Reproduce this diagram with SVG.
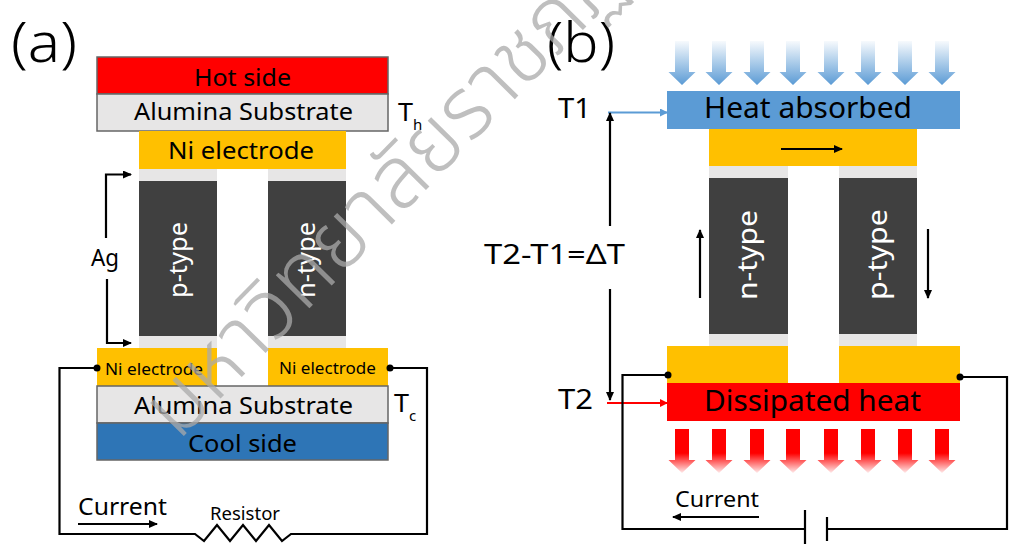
<svg xmlns="http://www.w3.org/2000/svg" width="1015" height="544" viewBox="0 0 1015 544">
<style>
text{font-family:"Noto Sans","Open Sans","Liberation Sans",sans-serif;fill:#000}
.t{font-weight:300}
.l{stroke:#000;stroke-width:2.200;fill:none}
.f{stroke:#000;stroke-width:2;fill:none}
.b{stroke:#666;stroke-width:1.500}
.wm{font-family:"Noto Sans Thai","Noto Sans","DejaVu Sans",sans-serif;font-size:86px;font-weight:300;fill:#aaa;fill-opacity:.75}
</style>
<defs>
<marker id="ah" markerWidth="9" markerHeight="8" refX="8" refY="4" orient="auto" markerUnits="userSpaceOnUse"><path d="M0 0L9 4L0 8z" fill="#000"/></marker>
<marker id="ahb" markerWidth="8" markerHeight="8" refX="7" refY="4" orient="auto" markerUnits="userSpaceOnUse"><path d="M0 0L8 4L0 8z" fill="#5b9bd5"/></marker>
<marker id="ahr" markerWidth="8" markerHeight="8" refX="7" refY="4" orient="auto" markerUnits="userSpaceOnUse"><path d="M0 0L8 4L0 8z" fill="#f00"/></marker>
<linearGradient id="gb" x1="0" y1="0" x2="0" y2="1"><stop offset="0" stop-color="#5b9bd5" stop-opacity=".05"/><stop offset="1" stop-color="#5b9bd5"/></linearGradient>
<linearGradient id="gr" x1="0" y1="0" x2="0" y2="1"><stop offset=".55" stop-color="#f00"/><stop offset="1" stop-color="#f00" stop-opacity=".08"/></linearGradient>
<path id="down" d="M-7 0H7V31H13.500L0 44L-13.500 31H-7z"/>
</defs>
<g id="panel-a">
<text class="t" x="11" y="62" font-size="56" textLength="66" lengthAdjust="spacingAndGlyphs">(a)</text>
<g id="hot-side"><rect class="b" x="97" y="57" width="291" height="37" fill="#f00"/><text x="194" y="86" font-size="24" textLength="97" lengthAdjust="spacingAndGlyphs">Hot side</text></g>
<g id="top-substrate"><rect class="b" x="97" y="94" width="291" height="37" fill="#e7e6e6"/><text x="134" y="120" font-size="24" textLength="219" lengthAdjust="spacingAndGlyphs">Alumina Substrate</text></g>
<g id="top-electrode"><rect x="139" y="131" width="207" height="38" fill="#ffc000"/><text x="168" y="159" font-size="24" textLength="146" lengthAdjust="spacingAndGlyphs">Ni electrode</text></g>
<g id="p-leg"><rect x="139" y="169" width="78" height="179" fill="#e7e6e6"/><rect x="139" y="181" width="78" height="155" fill="#404040"/><text transform="translate(187 298) rotate(-90)" font-size="25" textLength="76" lengthAdjust="spacingAndGlyphs" style="fill:#fff">p-type</text></g>
<g id="n-leg"><rect x="268" y="169" width="78" height="179" fill="#e7e6e6"/><rect x="268" y="181" width="78" height="155" fill="#404040"/><text transform="translate(315 298) rotate(-90)" font-size="25" textLength="76" lengthAdjust="spacingAndGlyphs" style="fill:#fff">n-type</text></g>
<g id="left-electrode"><rect x="97" y="348" width="120" height="38" fill="#ffc000"/><text x="105" y="375" font-size="16" textLength="98" lengthAdjust="spacingAndGlyphs">Ni electrode</text></g>
<g id="right-electrode"><rect x="268" y="348" width="120" height="38" fill="#ffc000"/><text x="279" y="374" font-size="16" textLength="97" lengthAdjust="spacingAndGlyphs">Ni electrode</text></g>
<g id="bottom-substrate"><rect class="b" x="97" y="386" width="291" height="37" fill="#e7e6e6"/><text x="134" y="414" font-size="24" textLength="219" lengthAdjust="spacingAndGlyphs">Alumina Substrate</text></g>
<g id="cool-side"><rect class="b" x="97" y="423" width="291" height="37" fill="#2e75b6"/><text x="188" y="452" font-size="24" textLength="109" lengthAdjust="spacingAndGlyphs">Cool side</text></g>
<text x="398" y="121" font-size="26" textLength="15" lengthAdjust="spacingAndGlyphs">T</text><text x="413" y="130" font-size="15">h</text>
<text x="394" y="412" font-size="26" textLength="15" lengthAdjust="spacingAndGlyphs">T</text><text x="409" y="421" font-size="15">c</text>
<text x="91" y="266" font-size="23" textLength="28" lengthAdjust="spacingAndGlyphs">Ag</text>
<text x="78" y="515" font-size="24" textLength="89" lengthAdjust="spacingAndGlyphs">Current</text>
<text x="210" y="520" font-size="18" textLength="70" lengthAdjust="spacingAndGlyphs">Resistor</text>
</g>
<g id="panel-b">
<text class="t" x="547" y="62" font-size="56" textLength="68" lengthAdjust="spacingAndGlyphs">(b)</text>
<g id="heat-in" fill="url(#gb)"><use href="#down" x="682" y="41"/><use href="#down" x="719" y="41"/><use href="#down" x="757" y="41"/><use href="#down" x="793" y="41"/><use href="#down" x="831" y="41"/><use href="#down" x="868" y="41"/><use href="#down" x="905" y="41"/><use href="#down" x="942" y="41"/></g>
<g id="heat-absorbed"><rect x="667" y="91" width="293" height="38" fill="#5b9bd5"/><text x="704" y="118" font-size="29" textLength="208" lengthAdjust="spacingAndGlyphs">Heat absorbed</text></g>
<g id="b-top-electrode"><rect x="709" y="129" width="208" height="37" fill="#ffc000"/></g>
<g id="b-n-leg"><rect x="709" y="166" width="79" height="180" fill="#e7e6e6"/><rect x="709" y="178" width="79" height="156" fill="#404040"/><text transform="translate(757 300) rotate(-90)" font-size="28" textLength="90" lengthAdjust="spacingAndGlyphs" style="fill:#fff">n-type</text></g>
<g id="b-p-leg"><rect x="839" y="166" width="78" height="180" fill="#e7e6e6"/><rect x="839" y="178" width="78" height="156" fill="#404040"/><text transform="translate(887 300) rotate(-90)" font-size="28" textLength="91" lengthAdjust="spacingAndGlyphs" style="fill:#fff">p-type</text></g>
<g id="b-left-electrode"><rect x="667" y="346" width="121" height="37" fill="#ffc000"/></g>
<g id="b-right-electrode"><rect x="839" y="346" width="121" height="37" fill="#ffc000"/></g>
<g id="dissipated-heat"><rect x="667" y="383" width="293" height="38" fill="#f00"/><text x="704" y="411" font-size="29" textLength="217" lengthAdjust="spacingAndGlyphs">Dissipated heat</text></g>
<g id="heat-out" fill="url(#gr)"><use href="#down" x="682" y="429"/><use href="#down" x="719" y="429"/><use href="#down" x="757" y="429"/><use href="#down" x="793" y="429"/><use href="#down" x="831" y="429"/><use href="#down" x="868" y="429"/><use href="#down" x="905" y="429"/><use href="#down" x="942" y="429"/></g>
<text x="558" y="118" font-size="27" textLength="33" lengthAdjust="spacingAndGlyphs">T1</text>
<text x="558" y="409" font-size="27" textLength="35" lengthAdjust="spacingAndGlyphs">T2</text>
<text x="484" y="264" font-size="27" textLength="141" lengthAdjust="spacingAndGlyphs">T2-T1=ΔT</text>
<text x="675" y="507" font-size="22" textLength="84" lengthAdjust="spacingAndGlyphs">Current</text>
</g>
<g id="connectors">
<path class="l" marker-end="url(#ah)" d="M106 238V174.500H131"/>
<path class="l" marker-end="url(#ah)" d="M107 279V343H131"/>
<path class="l" d="M97 368H59.500V534H195L204 541L217 525L230 541L243 525L256 541L269 525L282 541L291 534H427V368H390"/>
<circle cx="97" cy="368" r="3.500"/><circle cx="390" cy="368" r="3.500"/>
<path class="f" marker-end="url(#ah)" d="M78 524H157"/>
<path stroke="#5b9bd5" stroke-width="2" fill="none" marker-end="url(#ahb)" d="M608 112.500H667"/>
<path stroke="#f00" stroke-width="2" fill="none" marker-end="url(#ahr)" d="M607 403H667"/>
<path class="l" marker-end="url(#ah)" d="M610 226V113"/>
<path class="l" marker-end="url(#ah)" d="M610 289V400"/>
<path class="l" marker-end="url(#ah)" d="M781 149H842"/>
<path class="l" marker-end="url(#ah)" d="M700 298V230"/>
<path class="l" marker-end="url(#ah)" d="M928 229V298"/>
<path class="l" d="M668 375H622.500V529H805M805 510V544M827 517V541M827 529H1007V377H960"/>
<circle cx="668" cy="375" r="3.500"/><circle cx="960" cy="377" r="3.500"/>
<path class="l" marker-end="url(#ah)" d="M759 517H673"/>
</g>
<text class="wm" transform="translate(178 442) rotate(-45.500)">มหาวิทยาลัยราชภัฏมหาสารคาม</text>
</svg>
